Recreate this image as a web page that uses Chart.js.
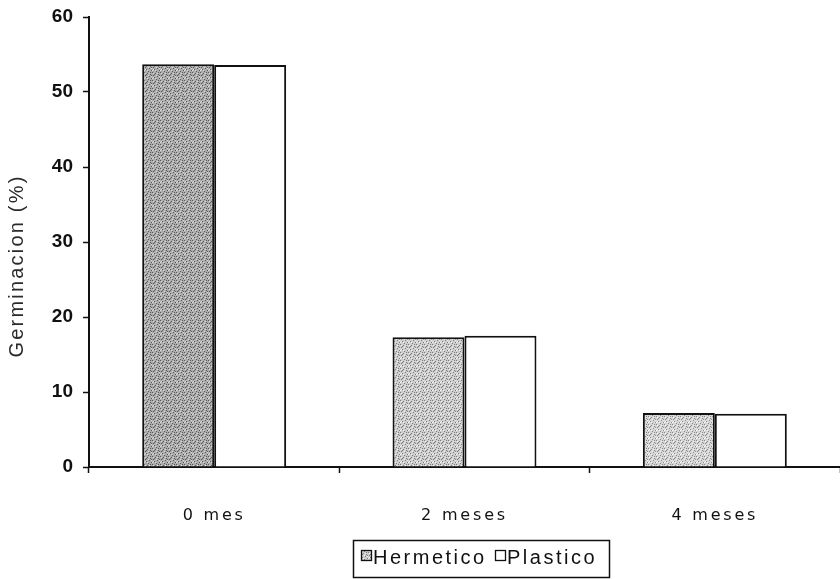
<!DOCTYPE html>
<html>
<head>
<meta charset="utf-8">
<script src="https://cdn.jsdelivr.net/npm/chart.js@4"></script>
<style>
  html, body { margin: 0; padding: 0; background: #fff; }
  #c { display: block; }
</style>
</head>
<body>
<canvas id="c" width="840" height="579"></canvas>
<script>
// Germination (%) by storage time and container type
const categories = ['0 mes', '2 meses', '4 meses'];
const hermetico = [53.7, 17.3, 7.2];
const plastico = [53.6, 17.5, 7.1];
const seriesNames = ['Hermetico', 'Plastico'];
const yTicks = [0, 10, 20, 30, 40, 50, 60];
const axisTitle = 'Germinacion (%)';

// Small repeating stipple tile for the grey bars
function stipple(base, dot, light) {
  const t = document.createElement('canvas');
  t.width = 8; t.height = 8;
  const g = t.getContext('2d');
  g.fillStyle = base; g.fillRect(0, 0, 8, 8);
  g.fillStyle = dot;
  [[0,0],[3,1],[6,2],[1,3],[5,4],[2,5],[7,6],[4,7],[6,0],[2,2],[7,3]].forEach(([x, y]) => g.fillRect(x, y, 1, 1));
  g.fillStyle = light;
  [[1,1],[4,3],[7,4],[0,6],[3,6],[5,1],[1,5]].forEach(([x, y]) => g.fillRect(x, y, 1, 1));
  return g.createPattern(t, 'repeat');
}
const hermeticoFill = [
  stipple('#acacac', '#585858', '#e0e0e0'),
  stipple('#cecece', '#7a7a7a', '#f0f0f0'),
  stipple('#d6d6d6', '#8a8a8a', '#f4f4f4')
];

const decorations = {
  id: 'decorations',
  beforeDraw(chart) {
    // y tick labels are drawn with normal spacing
    chart.ctx.letterSpacing = '0px';
  },
  beforeDatasetsDraw(chart) {
    // category labels (drawn on a later layer) are widely spaced
    chart.ctx.letterSpacing = '2.8px';
  },
  afterDraw(chart) {
    const ctx = chart.ctx;
    ctx.save();
    // vertical axis title
    ctx.letterSpacing = '2.2px';
    ctx.save();
    ctx.translate(17, 266);
    ctx.rotate(-Math.PI / 2);
    ctx.textAlign = 'center';
    ctx.textBaseline = 'middle';
    ctx.font = '20px "Liberation Sans", Arial, sans-serif';
    ctx.fillStyle = '#2a2a2a';
    ctx.fillText(axisTitle, 0, 0);
    ctx.restore();

    // boxed legend under the plot
    ctx.letterSpacing = '2.5px';
    ctx.strokeStyle = '#111';
    ctx.lineWidth = 1.5;
    ctx.strokeRect(353.5, 540.5, 256, 37);
    ctx.font = '20px "Liberation Sans", Arial, sans-serif';
    ctx.textBaseline = 'alphabetic';
    ctx.textAlign = 'left';
    const slots = [{ sq: 361, tx: 373 }, { sq: 495, tx: 507 }];
    const swatch = [hermeticoFill[1], '#ffffff'];
    chart.data.datasets.forEach((ds, i) => {
      const s = slots[i];
      ctx.fillStyle = swatch[i];
      ctx.fillRect(s.sq, 550.5, 10, 10);
      ctx.lineWidth = 1.3;
      ctx.strokeRect(s.sq + 0.5, 550.5, 10, 10);
      ctx.fillStyle = '#111';
      ctx.fillText(ds.label, s.tx, 564);
    });
    ctx.restore();
  }
};

new Chart(document.getElementById('c'), {
  type: 'bar',
  data: {
    labels: categories,
    datasets: [
      {
        label: seriesNames[0],
        data: hermetico,
        backgroundColor: hermeticoFill,
        borderColor: '#111',
        borderWidth: 2
      },
      {
        label: seriesNames[1],
        data: plastico,
        backgroundColor: '#ffffff',
        borderColor: '#111',
        borderWidth: 2
      }
    ]
  },
  options: {
    responsive: false,
    animation: false,
    devicePixelRatio: 1,
    layout: { padding: { left: 0, right: -6, top: 17, bottom: 0 } },
    datasets: { bar: { categoryPercentage: 0.575, barPercentage: 1 } },
    plugins: {
      legend: { display: false },
      tooltip: { enabled: false }
    },
    scales: {
      x: {
        grid: {
          display: true,
          drawOnChartArea: false,
          drawTicks: true,
          tickLength: 6,
          tickColor: '#111',
          tickWidth: 1.5,
          offset: true
        },
        border: { display: true, color: '#111', width: 2 },
        ticks: {
          z: 1,
          color: '#111',
          font: { family: '"DejaVu Sans", Verdana, sans-serif', size: 16 },
          padding: 33,
          maxRotation: 0,
          autoSkip: false
        },
        afterFit(scale) {
          scale.height = 112;
          scale.paddingLeft = 0;
          scale.paddingRight = 0;
        }
      },
      y: {
        min: 0,
        max: 60,
        afterBuildTicks(scale) { scale.ticks = yTicks.map(v => ({ value: v })); },
        grid: {
          drawOnChartArea: false,
          drawTicks: true,
          tickLength: 6,
          tickColor: '#111',
          tickWidth: 1.5
        },
        border: { display: true, color: '#111', width: 2 },
        ticks: {
          color: '#111',
          font: { family: '"Liberation Sans", Arial, sans-serif', size: 19, weight: 'bold' },
          padding: 10
        },
        afterFit(scale) {
          scale.width = 89;
          scale.paddingTop = 0;
          scale.paddingBottom = 0;
        }
      }
    }
  },
  plugins: [decorations]
});
</script>
</body>
</html>
